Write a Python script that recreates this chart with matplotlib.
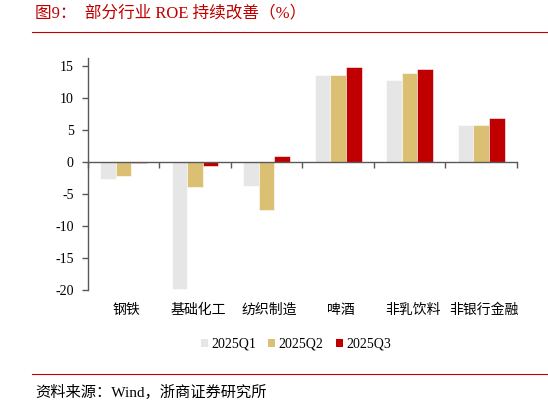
import numpy as np
import matplotlib
matplotlib.use("Agg")
import matplotlib.pyplot as plt
from matplotlib.patches import Patch
from matplotlib.lines import Line2D

plt.rcParams['font.family'] = ['Liberation Serif', 'Noto Sans CJK SC']

# data
categories = ['钢铁', '基础化工', '纺织制造', '啤酒', '非乳饮料', '非银行金融']
q1 = [-2.7, -19.8, -3.7, 13.6, 12.8, 5.7]
q2 = [-2.2, -3.9, -7.5, 13.6, 13.8, 5.8]
q3 = [-0.2, -0.7, 0.9, 14.8, 14.5, 6.8]
series = ['2025Q1', '2025Q2', '2025Q3']
colors = ['#E6E6E6', '#DBBF73', '#C00000']
red = '#C00000'
axis_gray = '#595959'

fig = plt.figure(figsize=(5.48, 4.05), dpi=100)
ax = fig.add_axes([87.7 / 548, 1 - 290 / 405, (517 - 87.7) / 548, (290 - 58.3) / 405])

x = np.arange(len(categories))
w = 0.218
for i, (vals, c) in enumerate(zip([q1, q2, q3], colors)):
    ax.bar(x + (i - 1) * w, vals, w, color=c, edgecolor='white', linewidth=0.4, zorder=2)

ax.set_xlim(-0.5, 5.5)
ax.set_ylim(-20, 16.15)
ax.set_yticks([-20, -15, -10, -5, 0, 5, 10, 15])
ax.set_yticklabels(['-20', '-15', '-10', '-5', '0', '5', '10', '15'], fontsize=10)

for s in ['top', 'right']:
    ax.spines[s].set_visible(False)
ax.spines['left'].set_color(axis_gray)
ax.spines['left'].set_linewidth(1)
ax.spines['bottom'].set_position(('data', 0))
ax.spines['bottom'].set_color(axis_gray)
ax.spines['bottom'].set_linewidth(1)
ax.spines['bottom'].set_zorder(3)

ax.set_xticks(np.arange(-0.5, 6, 1))
ax.set_xticklabels([])
ax.tick_params(axis='x', direction='out', length=4, width=1, color=axis_gray)
ax.tick_params(axis='y', direction='out', length=4, width=1, color=axis_gray, pad=6)

# category names sit a little right of centre in the original
shift = 3 / ((517 - 87.7) / 6)
for xi, name in zip(x, categories):
    ax.text(xi + shift, -0.087, name, transform=ax.get_xaxis_transform(), ha='center',
            va='center', fontsize=10)

# legend
handles = [Patch(facecolor=c, edgecolor='none') for c in colors]
fig.legend(handles, series, loc='center', bbox_to_anchor=(296 / 548, 1 - 344.5 / 405), ncol=3,
           frameon=False, fontsize=10, handlelength=0.5, handleheight=0.5,
           handletextpad=0.25, columnspacing=0.9)

# title and source
fig.text(35 / 548, 1 - 13 / 405, '图9：  部分行业 ROE 持续改善（%）', color=red,
         fontsize=12, ha='left', va='center')
fig.add_artist(Line2D([32 / 548, 1], [1 - 31.5 / 405] * 2, color=red, linewidth=0.8))
fig.add_artist(Line2D([32 / 548, 1], [1 - 374 / 405] * 2, color=red, linewidth=0.8))
fig.text(35 / 548, 1 - 392.5 / 405, '资料来源：Wind，浙商证券研究所', fontsize=11,
         ha='left', va='center')

fig.savefig('out.png', dpi=100)
